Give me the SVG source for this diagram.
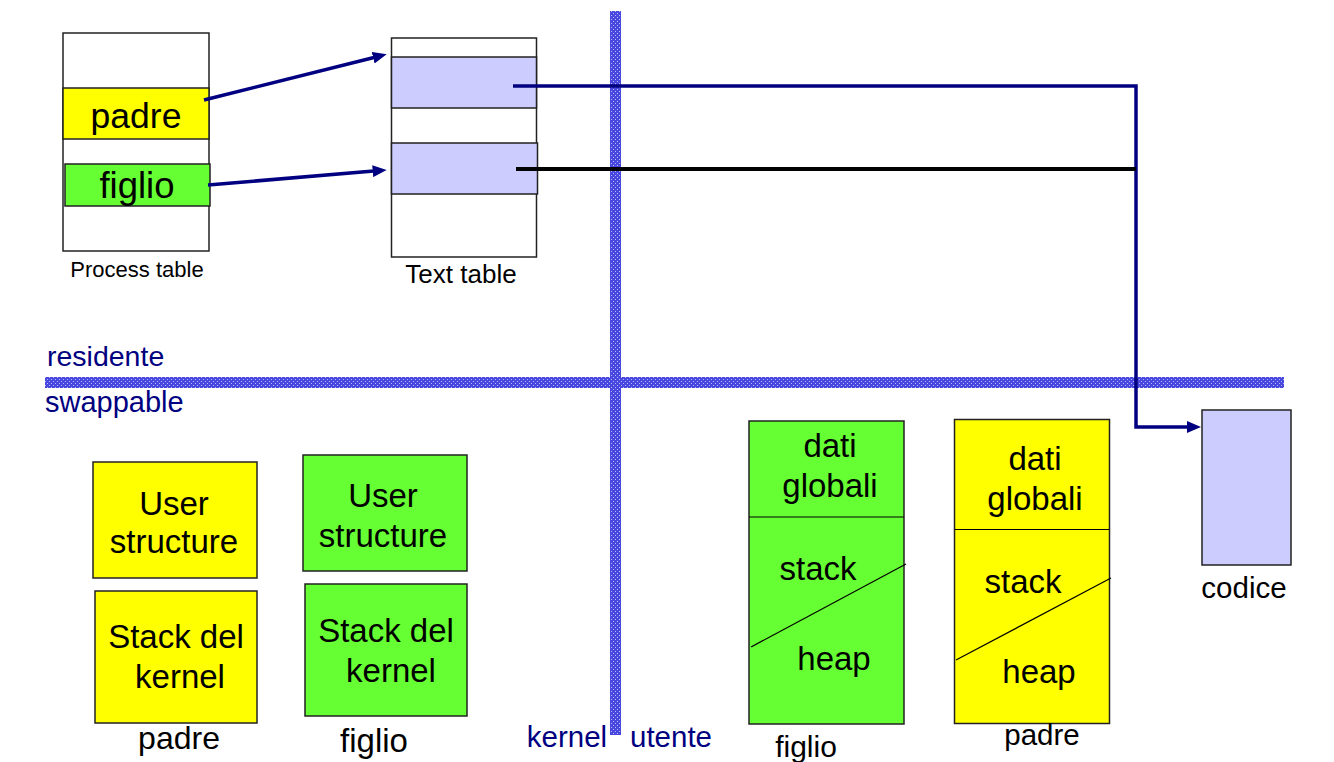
<svg xmlns="http://www.w3.org/2000/svg" width="1334" height="762" viewBox="0 0 1334 762">
<style>
text{font-family:"Liberation Sans",Arial,sans-serif;fill:#000}
.mid{text-anchor:middle}
.navy{fill:#000080}
.box{stroke:#222;stroke-width:1.5}
.yel{fill:#ffff00}
.grn{fill:#66ff33}
.lav{fill:#ccccff}
.wht{fill:#fff}
.conn{fill:none;stroke:#000080;stroke-width:3.5}
.thin{stroke:#000;stroke-width:1.2}
</style>
<defs>
<pattern id="dots" width="4" height="4" patternUnits="userSpaceOnUse">
<rect width="4" height="4" fill="#4848de"/>
<rect x="1" y="1" width="1" height="1" fill="#b8b8ff"/>
<rect x="3" y="3" width="1" height="1" fill="#b8b8ff"/>
</pattern>
<marker id="ah" markerUnits="userSpaceOnUse" markerWidth="14" markerHeight="12" refX="4" refY="6" orient="auto">
<path d="M0,0 L14,6 L0,12 z" fill="#000080"/>
</marker>
</defs>
<rect width="1334" height="762" fill="#fff"/>

<g id="bands">
<rect x="610" y="11" width="11" height="724" fill="url(#dots)"/>
<rect x="45" y="377" width="1239" height="11" fill="url(#dots)"/>
</g>

<g id="process-table">
<rect class="box wht" x="63" y="33" width="146" height="218"/>
<rect class="box yel" x="63" y="88" width="146" height="51"/>
<rect class="box grn" x="65" y="164" width="145" height="42"/>
<text class="mid" x="136" y="128" font-size="35.5">padre</text>
<text class="mid" x="137" y="198" font-size="36.5">figlio</text>
<text class="mid" x="137" y="277" font-size="22">Process table</text>
</g>

<g id="text-table">
<rect class="box wht" x="391.5" y="38" width="145" height="219"/>
<rect class="box lav" x="391.5" y="57" width="145" height="51"/>
<rect class="box lav" x="391.5" y="143" width="146" height="51"/>
<text class="mid" x="461" y="283" font-size="26">Text table</text>
</g>

<g id="connectors">
<line class="conn" x1="204" y1="100" x2="377" y2="56.7" marker-end="url(#ah)"/>
<line class="conn" x1="208" y1="185" x2="376.7" y2="170.8" marker-end="url(#ah)"/>
<path class="conn" d="M513,86 H1136 V427 H1191" marker-end="url(#ah)"/>
<line x1="516" y1="169" x2="1136" y2="169" stroke="#000" stroke-width="4"/>
</g>

<g id="labels-zones">
<text class="navy" x="47" y="366" font-size="28.5">residente</text>
<text class="navy" x="45" y="412" font-size="29">swappable</text>
<text class="navy mid" x="567" y="747" font-size="29.5">kernel</text>
<text class="navy mid" x="671" y="747" font-size="29.5">utente</text>
</g>

<g id="padre-user-structure">
<rect class="box yel" x="93" y="462" width="164" height="116"/>
<text class="mid" x="174" y="515" font-size="33">User</text>
<text class="mid" x="174" y="553" font-size="33">structure</text>
</g>
<g id="padre-stack-kernel">
<rect class="box yel" x="95" y="591" width="162" height="132"/>
<text class="mid" x="176" y="648" font-size="33">Stack del</text>
<text class="mid" x="180" y="688" font-size="33">kernel</text>
<text class="mid" x="179" y="749" font-size="32">padre</text>
</g>
<g id="figlio-user-structure">
<rect class="box grn" x="303" y="455" width="164" height="116"/>
<text class="mid" x="383" y="507" font-size="33">User</text>
<text class="mid" x="383" y="547" font-size="33">structure</text>
</g>
<g id="figlio-stack-kernel">
<rect class="box grn" x="305" y="584" width="162" height="132"/>
<text class="mid" x="386" y="642" font-size="33">Stack del</text>
<text class="mid" x="391" y="682" font-size="33">kernel</text>
<text class="mid" x="374" y="752" font-size="33">figlio</text>
</g>

<g id="figlio-memory">
<rect class="box grn" x="749" y="421" width="155" height="303"/>
<line class="thin" x1="749" y1="517" x2="904" y2="517"/>
<line class="thin" x1="751" y1="647" x2="906" y2="564"/>
<text class="mid" x="830" y="457" font-size="33">dati</text>
<text class="mid" x="830" y="497" font-size="33">globali</text>
<text class="mid" x="818" y="580" font-size="33">stack</text>
<text class="mid" x="834" y="670" font-size="33">heap</text>
<text class="mid" x="806" y="757" font-size="30">figlio</text>
</g>

<g id="padre-memory">
<rect class="box yel" x="954.5" y="419.5" width="155" height="304"/>
<line class="thin" x1="955" y1="529.5" x2="1109" y2="529.5"/>
<line class="thin" x1="956" y1="660" x2="1111" y2="578"/>
<text class="mid" x="1035" y="470" font-size="33">dati</text>
<text class="mid" x="1035" y="510" font-size="33">globali</text>
<text class="mid" x="1023" y="593" font-size="33">stack</text>
<text class="mid" x="1039" y="683" font-size="33">heap</text>
<text class="mid" x="1042" y="745" font-size="29.5">padre</text>
</g>

<g id="codice">
<rect class="box lav" x="1202" y="410" width="89" height="155"/>
<text class="mid" x="1244" y="598" font-size="29.5">codice</text>
</g>
</svg>
